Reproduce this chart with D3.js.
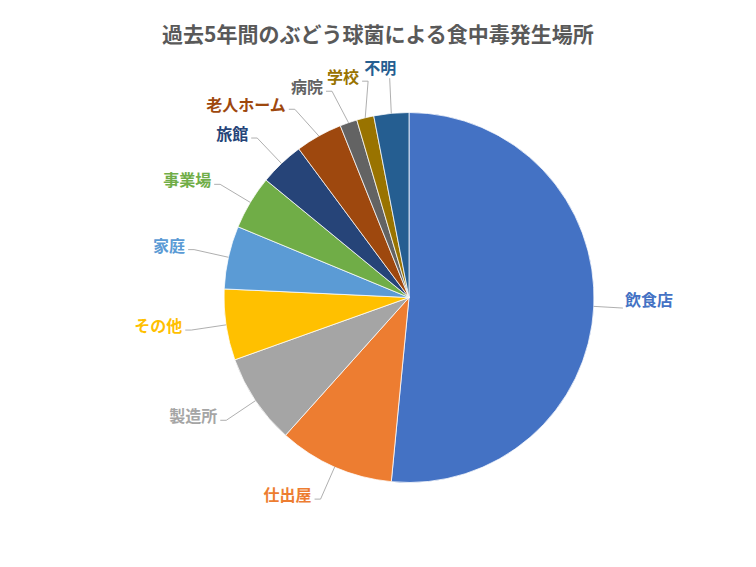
<!DOCTYPE html>
<html>
<head>
<meta charset="utf-8">
<script src="https://cdn.jsdelivr.net/npm/d3@7"></script>
<style>
  body { margin: 0; background: #fff; }
  text { font-family: "Noto Sans CJK JP", "Noto Sans", sans-serif; }
</style>
</head>
<body>
<svg id="chart"></svg>
<script>
// data (share of outbreaks, %)
const title = "過去5年間のぶどう球菌による食中毒発生場所";
const places = ["飲食店", "仕出屋", "製造所", "その他", "家庭", "事業場", "旅館", "老人ホーム", "病院", "学校", "不明"];
const shares = [51.5, 10.1, 7.9, 6.2, 5.5, 4.7, 3.9, 4.1, 1.5, 1.5, 3.05];
const colors = ["#4472C4", "#ED7D31", "#A5A5A5", "#FFC000", "#5B9BD5", "#70AD47",
                "#264478", "#9E480E", "#636363", "#997300", "#255E91"];

var svgWidth = 756, svgHeight = 567;
var cx = 409, cy = 297.5, R = 185;
var rl = R * 1.19;

var svg = d3.select("#chart")
  .attr("width", svgWidth)
  .attr("height", svgHeight);

svg.append("text")
  .attr("x", svgWidth / 2)
  .attr("y", 33)
  .attr("text-anchor", "middle")
  .attr("dominant-baseline", "central")
  .attr("font-size", 21)
  .attr("font-weight", 700)
  .attr("fill", "#595959")
  .text(title);

var pie = d3.pie().sort(null).value(function (d) { return d; });
var arcs = pie(shares);
var arc = d3.arc().innerRadius(0).outerRadius(R);

var g = svg.append("g").attr("transform", "translate(" + cx + "," + cy + ")");

g.selectAll("path.slice")
  .data(arcs)
  .enter().append("path")
  .attr("class", "slice")
  .attr("d", arc)
  .attr("fill", function (d, i) { return colors[i]; })
  .attr("stroke", "#fff")
  .attr("stroke-width", 0.75);

// labels: measure text, then spread them around the circle so they don't collide
var lineG = svg.append("g");
var labelG = svg.append("g");

var texts = labelG.selectAll("text")
  .data(arcs)
  .enter().append("text")
  .attr("font-size", 16)
  .attr("font-weight", 700)
  .attr("fill", function (d, i) { return colors[i]; })
  .attr("dominant-baseline", "central")
  .text(function (d, i) { return places[i]; });

var L = arcs.map(function (d, i) {
  var mid = (d.startAngle + d.endAngle) / 2;
  return { i: i, mid: mid, th: mid, w: texts.nodes()[i].getComputedTextLength(), h: 18 };
});

function place(l) {
  var s = Math.sin(l.th), c = Math.cos(l.th);
  var ax = cx + rl * s, ay = cy - rl * c;
  var x0, yc;
  if (Math.abs(s) < 0.15) {
    var xc = ax + (s / 0.15) * l.w / 2;
    x0 = xc - l.w / 2;
    yc = ay - 2 - l.h / 2;
  } else if (s < 0) {
    x0 = ax - 9 - l.w;
    yc = ay - 5;
  } else {
    x0 = ax - 4;
    yc = ay - 9;
  }
  return { ax: ax, ay: ay, x0: x0, x1: x0 + l.w, y0: yc - l.h / 2, y1: yc + l.h / 2, yc: yc, s: s };
}

var pad = 4, step = 0.004;
for (var iter = 0; iter < 400; iter++) {
  var moved = false;
  for (var a = 0; a < L.length; a++) {
    for (var b = a + 1; b < L.length; b++) {
      var A = place(L[a]), B = place(L[b]);
      if (A.x0 < B.x1 + pad && B.x0 < A.x1 + pad && A.y0 < B.y1 + pad && B.y0 < A.y1 + pad) {
        var dir = L[a].th < L[b].th ? 1 : -1;
        L[a].th -= dir * step;
        L[b].th += dir * step;
        moved = true;
      }
    }
  }
  if (!moved) break;
}

L.forEach(function (l) {
  var p = place(l);
  var ex = cx + R * Math.sin(l.mid), ey = cy - R * Math.cos(l.mid);
  var pts = [[ex, ey], [p.ax, p.ay]];
  if (Math.abs(p.s) >= 0.15 && p.s < 0) pts.push([p.ax - 6, p.ay]);
  if (p.s >= 0.15) pts[1] = [p.ax - 6, p.ay];
  lineG.append("path")
    .attr("d", d3.line()(pts))
    .attr("fill", "none")
    .attr("stroke", "#A6A6A6")
    .attr("stroke-width", 0.9);
  d3.select(texts.nodes()[l.i])
    .attr("x", p.x0)
    .attr("y", p.yc);
});
</script>
</body>
</html>
